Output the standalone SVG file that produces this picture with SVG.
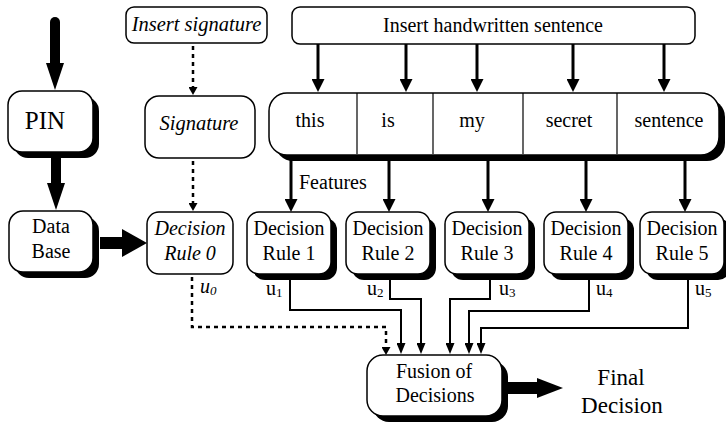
<svg xmlns="http://www.w3.org/2000/svg" width="726" height="423" viewBox="0 0 726 423">
<defs>
<style>
.box{fill:#fff;stroke:#000;stroke-width:1.5}
.sh{fill:#000}
.t{font-family:"Liberation Serif","Times New Roman",serif;font-size:20px;text-anchor:middle;fill:#000}
.it{font-style:italic}
.ts{text-anchor:start}
.sub{font-size:13px}
.fat{stroke:#000;fill:none}
.med{stroke:#000;stroke-width:3;fill:none}
.thin{stroke:#000;stroke-width:2;fill:none}
.dot{stroke:#000;stroke-width:2.5;stroke-dasharray:4 4;fill:none}
.div{stroke:#000;stroke-width:1.2}
</style>
<marker id="mFatV" markerUnits="userSpaceOnUse" viewBox="0 -9 27 18" markerWidth="27" markerHeight="18" refX="0" refY="0" orient="auto"><path d="M0,-9 L27,0 L0,9 Z" fill="#000"/></marker>
<marker id="mFatH" markerUnits="userSpaceOnUse" viewBox="0 -14 25 28" markerWidth="25" markerHeight="28" refX="0" refY="0" orient="auto"><path d="M0,-14 L25,0 L0,14 Z" fill="#000"/></marker>
<marker id="mFatF" markerUnits="userSpaceOnUse" viewBox="0 -10 26 20" markerWidth="26" markerHeight="20" refX="0" refY="0" orient="auto"><path d="M0,-10 L26,0 L0,10 Z" fill="#000"/></marker>
<marker id="mMed" markerUnits="userSpaceOnUse" viewBox="0 -6.5 13 13" markerWidth="13" markerHeight="13" refX="0" refY="0" orient="auto"><path d="M0,-6.5 L13,0 L0,6.5 Z" fill="#000"/></marker>
<marker id="mThin" markerUnits="userSpaceOnUse" viewBox="0 -4.5 11 9" markerWidth="11" markerHeight="9" refX="0" refY="0" orient="auto"><path d="M0,-4.5 L11,0 L0,4.5 Z" fill="#000"/></marker>
<marker id="mDot" markerUnits="userSpaceOnUse" viewBox="0 -4.5 8 9" markerWidth="8" markerHeight="9" refX="0" refY="0" orient="auto"><path d="M0,-4.5 L8,0 L0,4.5 Z" fill="#000"/></marker>
</defs>
<rect width="726" height="423" fill="#fff"/>

<g id="pin">
<rect class="sh" x="14" y="97" width="85" height="61" rx="14"/>
<rect class="box" x="8" y="91" width="85" height="61" rx="14"/>
<text class="t" x="45" y="129" style="font-size:25px">PIN</text>
</g>
<g id="database">
<rect class="sh" x="15" y="217" width="84" height="61" rx="14"/>
<rect class="box" x="9" y="211" width="84" height="61" rx="14"/>
<text class="t" x="51" y="233">Data</text>
<text class="t" x="51" y="258">Base</text>
</g>
<g id="insert-signature">
<rect class="box" x="126" y="7" width="141" height="36" rx="8"/>
<text class="t it" x="196.5" y="31" style="font-size:20.5px">Insert signature</text>
</g>
<g id="signature">
<rect class="box" x="145" y="96" width="110" height="62" rx="14"/>
<text class="t it" x="199" y="130" style="font-size:20.5px">Signature</text>
</g>
<g id="rule0">
<rect class="box" x="147" y="212" width="86" height="62" rx="12"/>
<text class="t it" x="190" y="235">Decision</text>
<text class="t it" x="190" y="260">Rule 0</text>
</g>
<g id="insert-sentence">
<rect class="box" x="292" y="7" width="403" height="37" rx="8"/>
<text class="t" x="493" y="32">Insert handwritten sentence</text>
</g>
<g id="sentence">
<rect class="sh" x="275" y="99" width="450" height="62" rx="18"/>
<rect class="box" x="269" y="93" width="450" height="62" rx="18"/>
<line class="div" x1="357" y1="93" x2="357" y2="154"/>
<line class="div" x1="433" y1="93" x2="433" y2="154"/>
<line class="div" x1="523" y1="93" x2="523" y2="154"/>
<line class="div" x1="617" y1="93" x2="617" y2="154"/>
<text class="t" x="310" y="127">this</text>
<text class="t" x="388" y="127">is</text>
<text class="t" x="472" y="127">my</text>
<text class="t" x="569" y="127">secret</text>
<text class="t" x="669" y="127">sentence</text>
</g>
<g id="rule1">
<rect class="sh" x="253" y="218" width="84" height="62" rx="12"/>
<rect class="box" x="247" y="212" width="84" height="62" rx="12"/>
<text class="t" x="289" y="235">Decision</text>
<text class="t" x="289" y="260">Rule 1</text>
</g>
<g id="rule2">
<rect class="sh" x="352" y="218" width="84" height="62" rx="12"/>
<rect class="box" x="346" y="212" width="84" height="62" rx="12"/>
<text class="t" x="388" y="235">Decision</text>
<text class="t" x="388" y="260">Rule 2</text>
</g>
<g id="rule3">
<rect class="sh" x="451" y="218" width="84" height="62" rx="12"/>
<rect class="box" x="445" y="212" width="84" height="62" rx="12"/>
<text class="t" x="487" y="235">Decision</text>
<text class="t" x="487" y="260">Rule 3</text>
</g>
<g id="rule4">
<rect class="sh" x="550" y="218" width="84" height="62" rx="12"/>
<rect class="box" x="544" y="212" width="84" height="62" rx="12"/>
<text class="t" x="586" y="235">Decision</text>
<text class="t" x="586" y="260">Rule 4</text>
</g>
<g id="rule5">
<rect class="sh" x="646" y="218" width="84" height="62" rx="12"/>
<rect class="box" x="640" y="212" width="84" height="62" rx="12"/>
<text class="t" x="682" y="235">Decision</text>
<text class="t" x="682" y="260">Rule 5</text>
</g>
<g id="fusion">
<rect class="sh" x="373" y="361" width="135" height="61" rx="16"/>
<rect class="box" x="367" y="355" width="135" height="61" rx="16"/>
<text class="t" x="434" y="378">Fusion of</text>
<text class="t" x="435" y="402">Decisions</text>
</g>
<g id="final-decision">
<text class="t" x="621" y="385" style="font-size:23px">Final</text>
<text class="t" x="622" y="413" style="font-size:23px">Decision</text>
</g>

<g id="connectors">
<line class="fat" x1="55" y1="22" x2="55" y2="63" stroke-width="10" stroke-linecap="round" marker-end="url(#mFatV)"/>
<line class="fat" x1="56" y1="158" x2="56" y2="183" stroke-width="10" marker-end="url(#mFatV)"/>
<line class="fat" x1="100" y1="243" x2="122" y2="243" stroke-width="12" marker-end="url(#mFatH)"/>
<line class="fat" x1="508" y1="388" x2="537" y2="388" stroke-width="12" marker-end="url(#mFatF)"/>
<line class="dot" x1="193" y1="46" x2="193" y2="87" marker-end="url(#mDot)"/>
<line class="dot" x1="193" y1="161" x2="193" y2="203" marker-end="url(#mDot)"/>
<line class="med" x1="318" y1="44" x2="318" y2="79" marker-end="url(#mMed)"/>
<line class="med" x1="406" y1="44" x2="406" y2="79" marker-end="url(#mMed)"/>
<line class="med" x1="477" y1="44" x2="477" y2="79" marker-end="url(#mMed)"/>
<line class="med" x1="573" y1="44" x2="573" y2="79" marker-end="url(#mMed)"/>
<line class="med" x1="664" y1="44" x2="664" y2="79" marker-end="url(#mMed)"/>
<line class="med" x1="291" y1="160" x2="291" y2="199" marker-end="url(#mMed)"/>
<line class="med" x1="389" y1="160" x2="389" y2="199" marker-end="url(#mMed)"/>
<line class="med" x1="488" y1="160" x2="488" y2="199" marker-end="url(#mMed)"/>
<line class="med" x1="586" y1="160" x2="586" y2="199" marker-end="url(#mMed)"/>
<line class="med" x1="685" y1="160" x2="685" y2="199" marker-end="url(#mMed)"/>
<path class="dot" d="M192,277 V327 H386 V347" marker-end="url(#mDot)"/>
<path class="thin" d="M290,274 V310 H401 V343" marker-end="url(#mThin)"/>
<path class="thin" d="M390,280 V299 H421 V343" marker-end="url(#mThin)"/>
<path class="thin" d="M490,280 V299 H450 V343" marker-end="url(#mThin)"/>
<path class="thin" d="M589,280 V311 H469 V343" marker-end="url(#mThin)"/>
<path class="thin" d="M688,280 V328 H481 V343" marker-end="url(#mThin)"/>
</g>

<g id="labels">
<text class="t ts" x="299" y="189">Features</text>
<text class="t ts it" x="200" y="293">u<tspan class="sub" dy="2">0</tspan></text>
<text class="t ts" x="266" y="295">u<tspan class="sub" dy="2">1</tspan></text>
<text class="t ts" x="367" y="295">u<tspan class="sub" dy="2">2</tspan></text>
<text class="t ts" x="499" y="295">u<tspan class="sub" dy="2">3</tspan></text>
<text class="t ts" x="596" y="295">u<tspan class="sub" dy="2">4</tspan></text>
<text class="t ts" x="695" y="295">u<tspan class="sub" dy="2">5</tspan></text>
</g>
</svg>
